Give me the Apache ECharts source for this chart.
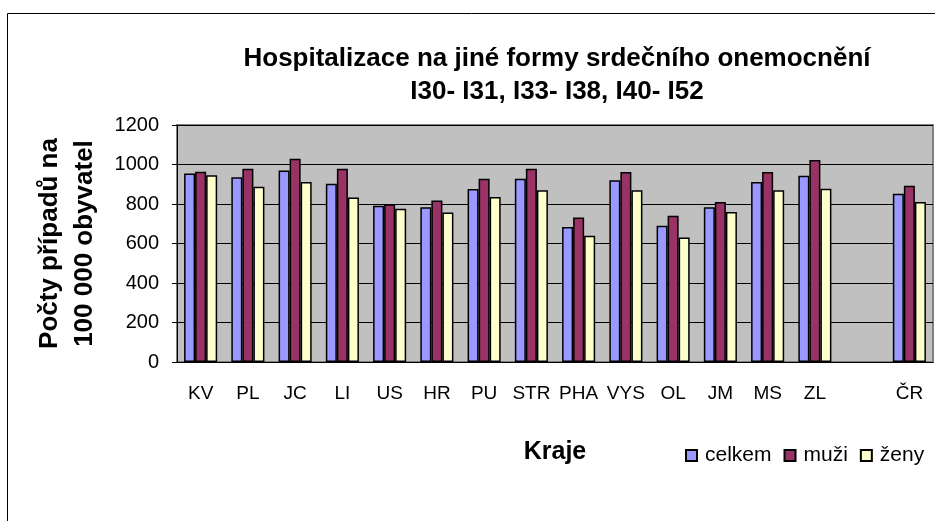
<!DOCTYPE html>
<html><head><meta charset="utf-8">
<script src="https://cdn.jsdelivr.net/npm/echarts@6/dist/echarts.min.js"></script>
<style>html,body{margin:0;padding:0;background:#fff}#c{width:935px;height:521px}</style>
</head><body><div id="c"></div>
<script>
const categories = ['KV','PL','JC','LI','US','HR','PU','STR','PHA','VYS','OL','JM','MS','ZL','','ČR'];
const celkem = [955, 936, 970, 902, 791, 783, 876, 928, 683, 920, 690, 783, 911, 943, null, 852];
const muzi   = [963, 978, 1029, 978, 799, 818, 928, 978, 732, 962, 740, 810, 962, 1023, null, 892];
const zeny   = [945, 887, 911, 833, 776, 757, 835, 869, 639, 869, 631, 759, 869, 877, null, 810];
const yTicks = [0, 200, 400, 600, 800, 1000, 1200];

const FONT = '"Liberation Sans", Arial, sans-serif';
const chart = echarts.init(document.getElementById('c'), null, {renderer:'canvas'});
function bar(name, data, color){
  return {name, type:'bar', data, barGap:'0%', barCategoryGap:'30%',
    itemStyle:{color, borderColor:'#000', borderWidth:1.5}};
}
chart.setOption({
  animation:false,
  textStyle:{fontFamily:FONT},
  graphic:[{type:'rect', shape:{x:7.5,y:13.5,width:1000,height:1000}, style:{fill:null, stroke:'#000', lineWidth:1}, silent:true}],
  title:{text:'Hospitalizace na jiné formy srdečního onemocnění\nI30- I31, I33- I38, I40- I52', left:552, top:37, textAlign:'center',
    textStyle:{fontFamily:FONT, fontSize:26, fontWeight:'bold', color:'#000', lineHeight:33}},
  grid:{left:177, top:125, width:756, height:237, show:true, backgroundColor:'#C0C0C0', borderColor:'#808080', borderWidth:2, containLabel:false},
  legend:{data:['celkem','muži','ženy'], left:680, top:440, icon:'rect', itemWidth:11, itemHeight:11, itemGap:12,
    textStyle:{fontFamily:FONT, fontSize:21, color:'#000', padding:[0,0,0,3]}},
  xAxis:{type:'category', data:categories, name:'Kraje', nameLocation:'middle', nameGap:78,
    nameTextStyle:{fontFamily:FONT, fontSize:25, fontWeight:'bold', color:'#000'},
    axisLine:{lineStyle:{color:'#000', width:1}}, axisTick:{length:6, lineStyle:{color:'#000'}},
    axisLabel:{fontFamily:FONT, fontSize:19, color:'#000', margin:22, interval:0, hideOverlap:false}},
  yAxis:{type:'value', min:yTicks[0], max:yTicks[yTicks.length-1], interval:200,
    name:'Počty případů na\n100 000 obyvatel', nameLocation:'middle', nameRotate:90, nameGap:75,
    nameTextStyle:{fontFamily:FONT, fontSize:26, fontWeight:'bold', color:'#000', lineHeight:35},
    axisLine:{show:true, lineStyle:{color:'#000', width:1}}, axisTick:{show:true, length:5, lineStyle:{color:'#000'}},
    axisLabel:{fontFamily:FONT, fontSize:20, color:'#000', margin:18, formatter:v=>String(v)},
    splitLine:{lineStyle:{color:'#000', width:1}}},
  series:[bar('celkem', celkem, '#9999FF'), bar('muži', muzi, '#993366'), bar('ženy', zeny, '#FFFFCC')]
});
</script></body></html>
